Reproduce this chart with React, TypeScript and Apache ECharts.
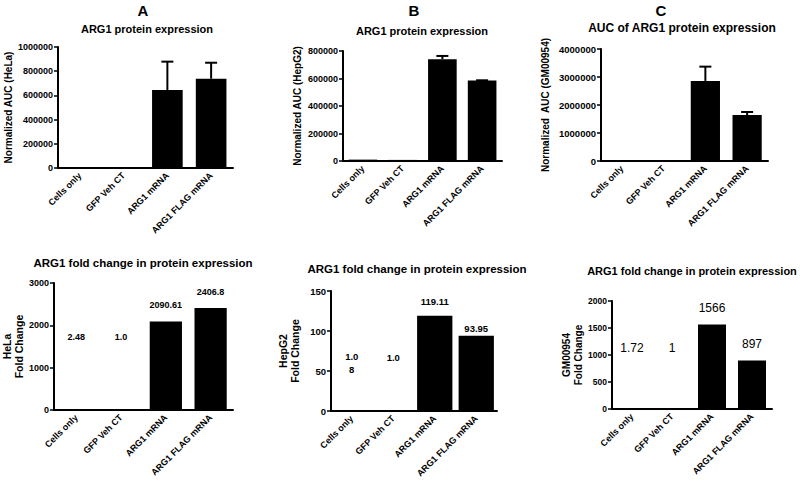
import React, { useEffect, useRef } from "react";
import * as echarts from "echarts";

const categories = ["Cells only", "GFP Veh CT", "ARG1 mRNA", "ARG1 FLAG mRNA"];

// Top row: normalized AUC (mean) and upper error (SD)
const aucHeLa = [5000, 1000, 645000, 738000];
const aucHeLaErr = [0, 0, 234000, 132000];
const aucHepG2 = [10000, 8000, 740000, 585000];
const aucHepG2Err = [0, 0, 24000, 2000];
const aucGM = [20000, 5000, 2860000, 1640000];
const aucGMErr = [0, 0, 510000, 110000];

// Bottom row: fold change
const foldHeLa = [2.48, 1.0, 2090.61, 2406.8];
const foldHeLaLabels = ["2.48", "1.0", "2090.61", "2406.8"];
const foldHepG2 = [1.08, 1.0, 119.11, 93.95];
const foldHepG2Labels = ["1.0\n8", "1.0", "119.11", "93.95"];
const foldGM = [1.72, 1, 1566, 897];
const foldGMLabels = ["1.72", "1", "1566", "897"];

const panelLetters = ["A", "B", "C"];
const topTitles = ["ARG1 protein expression", "ARG1 protein expression", "AUC of ARG1 protein expression"];
const bottomTitle = "ARG1 fold change in protein expression";
const topAxisNames = ["Normalized AUC (HeLa)", "Normalized AUC (HepG2)", "Normalized  AUC (GM00954)"];
const bottomAxisNames = ["HeLa\nFold Change", "HepG2\nFold Change", "GM00954\nFold Change"];

const FONT = "'Liberation Sans', Arial, sans-serif";

type Panel = {
  grid: { left: number; top: number; width: number; height: number };
  max: number;
  interval: number;
  values: number[];
  errors?: number[];
  labels?: string[];
  labelOffsets?: number[][];
  labelFont?: { size: number; weight: string };
  labelDistance?: number;
  axisName: string;
  nameGap: number;
  nameSize: number;
  tickFont: number;
  barWidth: string;
};

const panels: Panel[] = [
  { grid: { left: 58, top: 47, width: 175, height: 121 }, max: 1000000, interval: 200000, values: aucHeLa, errors: aucHeLaErr, axisName: topAxisNames[0], nameGap: 34, nameSize: 10, tickFont: 9, barWidth: "70%" },
  { grid: { left: 343, top: 51, width: 159, height: 110 }, max: 800000, interval: 200000, values: aucHepG2, errors: aucHepG2Err, axisName: topAxisNames[1], nameGap: 40, nameSize: 10, tickFont: 9, barWidth: "72%" },
  { grid: { left: 601, top: 49, width: 167, height: 112 }, max: 4000000, interval: 1000000, values: aucGM, errors: aucGMErr, axisName: topAxisNames[2], nameGap: 50, nameSize: 10, tickFont: 9.5, barWidth: "70%" },
  { grid: { left: 50, top: 283, width: 183, height: 127 }, max: 3000, interval: 1000, values: foldHeLa, labels: foldHeLaLabels, labelOffsets: [[0, -56], [0, -56], [0, 0], [0, 0]], labelFont: { size: 9, weight: "bold" }, labelDistance: 10, axisName: bottomAxisNames[0], nameGap: 28, nameSize: 10.5, tickFont: 9, barWidth: "72%" },
  { grid: { left: 331, top: 291, width: 166, height: 120 }, max: 150, interval: 50, values: foldHepG2, labels: foldHepG2Labels, labelOffsets: [[0, -26], [0, -38], [0, 0], [0, 7]], labelFont: { size: 9.5, weight: "bold" }, labelDistance: 8, axisName: bottomAxisNames[1], nameGap: 30, nameSize: 10.5, tickFont: 9.5, barWidth: "85%" },
  { grid: { left: 612, top: 301, width: 160, height: 108 }, max: 2000, interval: 500, values: foldGM, labels: foldGMLabels, labelOffsets: [[0, -44], [0, -44], [0, 0], [0, 0]], labelFont: { size: 12, weight: "normal" }, labelDistance: 10, axisName: bottomAxisNames[2], nameGap: 28, nameSize: 10, tickFont: 8.5, barWidth: "70%" },
];

const letterPos = [[143, 10], [414, 10], [661, 10]];
const topTitlePos = [[147, 29], [422, 31], [682, 28]];
const bottomTitlePos = [[143, 263], [417, 269], [692, 271]];

export default function App() {
  const ref = useRef<HTMLDivElement>(null);
  useEffect(() => {
    if (!ref.current) return;
    const chart = echarts.init(ref.current, null, { renderer: "svg" });

    const grids = panels.map((p) => ({ ...p.grid, containLabel: false }));
    const xAxes = panels.map((p, i) => ({
      type: "category",
      gridIndex: i,
      data: categories,
      axisLine: { lineStyle: { color: "#000", width: 2 } },
      axisTick: { alignWithLabel: true, length: 4, lineStyle: { color: "#000", width: 1.5 } },
      axisLabel: { interval: 0, rotate: 45, color: "#000", fontWeight: "bold", fontSize: 9, fontFamily: FONT, margin: 6 },
      splitLine: { show: false },
    }));
    const yAxes = panels.map((p, i) => ({
      type: "value",
      gridIndex: i,
      min: 0,
      max: p.max,
      interval: p.interval,
      name: p.axisName,
      nameLocation: "middle",
      nameRotate: 90,
      nameGap: p.nameGap,
      nameTextStyle: { color: "#000", fontWeight: "bold", fontSize: p.nameSize, fontFamily: FONT, lineHeight: 12 },
      axisLine: { show: true, lineStyle: { color: "#000", width: 2 } },
      axisTick: { show: true, length: 4, lineStyle: { color: "#000", width: 1.5 } },
      axisLabel: { color: "#000", fontWeight: "bold", fontSize: p.tickFont, fontFamily: FONT, margin: 5, formatter: (v: number) => String(v) },
      splitLine: { show: false },
    }));

    const series: any[] = [];
    panels.forEach((p, i) => {
      series.push({
        type: "bar",
        xAxisIndex: i,
        yAxisIndex: i,
        barWidth: p.barWidth,
        itemStyle: { color: "#000" },
        data: p.values.map((v, j) =>
          p.labels
            ? { value: v, label: { offset: p.labelOffsets ? p.labelOffsets[j] : [0, 0] } }
            : v
        ),
        label: p.labels
          ? {
              show: true,
              position: "top",
              distance: p.labelDistance,
              color: "#000",
              fontSize: p.labelFont!.size,
              fontWeight: p.labelFont!.weight,
              fontFamily: FONT,
              lineHeight: 13,
              formatter: (prm: any) => p.labels![prm.dataIndex],
            }
          : { show: false },
      });
      if (p.errors) {
        const errData = p.values
          .map((v, j) => [j, v, p.errors![j]])
          .filter((d) => d[2] > 0);
        series.push({
          type: "custom",
          xAxisIndex: i,
          yAxisIndex: i,
          encode: { x: 0, y: 1 },
          z: 5,
          data: errData,
          renderItem: (params: any, api: any) => {
            const idx = api.value(0);
            const v = api.value(1);
            const e = api.value(2);
            const p0 = api.coord([idx, v]);
            const p1 = api.coord([idx, v + e]);
            const w = 12;
            return {
              type: "group",
              children: [
                { type: "line", shape: { x1: p0[0], y1: p0[1], x2: p1[0], y2: p1[1] }, style: { stroke: "#000", lineWidth: 2 } },
                { type: "line", shape: { x1: p1[0] - w / 2, y1: p1[1], x2: p1[0] + w / 2, y2: p1[1] }, style: { stroke: "#000", lineWidth: 2 } },
              ],
            };
          },
        });
      }
    });

    const graphics: any[] = [];
    panelLetters.forEach((L, i) => {
      graphics.push({
        type: "text",
        x: letterPos[i][0],
        y: letterPos[i][1],
        style: { text: L, fill: "#000", font: `bold 15px ${FONT}`, textAlign: "center", textVerticalAlign: "middle" },
      });
      graphics.push({
        type: "text",
        x: topTitlePos[i][0],
        y: topTitlePos[i][1],
        style: { text: topTitles[i], fill: "#000", font: `bold ${i === 2 ? 12 : 11}px ${FONT}`, textAlign: "center", textVerticalAlign: "middle" },
      });
      graphics.push({
        type: "text",
        x: bottomTitlePos[i][0],
        y: bottomTitlePos[i][1],
        style: { text: bottomTitle, fill: "#000", font: `bold ${i === 2 ? 11 : 11.5}px ${FONT}`, textAlign: "center", textVerticalAlign: "middle" },
      });
    });

    chart.setOption({
      animation: false,
      backgroundColor: "#fff",
      grid: grids,
      xAxis: xAxes,
      yAxis: yAxes,
      series,
      graphic: graphics,
    });
    return () => chart.dispose();
  }, []);
  return <div ref={ref} style={{ position: "fixed", left: 0, top: 0, width: 800, height: 497 }} />;
}
